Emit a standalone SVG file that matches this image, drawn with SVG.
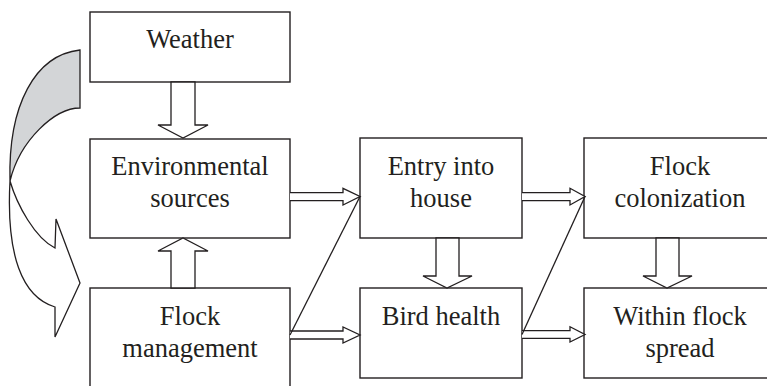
<svg xmlns="http://www.w3.org/2000/svg" width="767" height="386" viewBox="0 0 767 386">
  <style>
    .box { fill: #ffffff; stroke: #231f20; stroke-width: 1.4; }
    .lbl { font-family: 'Liberation Serif', 'Times New Roman', serif; font-size: 26.5px; fill: #231f20; text-anchor: middle; }
    .blk { fill: #ffffff; stroke: #231f20; stroke-width: 1.3; stroke-linejoin: miter; }
    .ln { fill: none; stroke: #231f20; stroke-width: 1.3; }
    .back { fill: #d3d5d7; stroke: #231f20; stroke-width: 1.3; }
  </style>
  <rect width="767" height="386" fill="#ffffff"/>

  <!-- twisted feedback arrow: weather acts on flock management -->
  <g id="feedback-arrow">
    <path class="back" d="M80,50 L80,108 C55,108 20,140 10,181 C8,105 35,55 80,50 Z"/>
    <path class="blk" d="M10,181 C6,255 22,297 55,307 L55,337 L80,283 L56,219 L55,248 C35,238 17,205 10,181 Z"/>
  </g>

  <!-- nodes -->
  <g id="weather">
    <rect class="box" x="90" y="12" width="200" height="70"/>
    <text class="lbl" x="190" y="48">Weather</text>
  </g>
  <g id="environmental-sources">
    <rect class="box" x="90" y="139" width="200" height="99"/>
    <text class="lbl" x="190" y="175">Environmental</text>
    <text class="lbl" x="190" y="207">sources</text>
  </g>
  <g id="flock-management">
    <rect class="box" x="90" y="288" width="200" height="120"/>
    <text class="lbl" x="190" y="325">Flock</text>
    <text class="lbl" x="190" y="357">management</text>
  </g>
  <g id="entry-into-house">
    <rect class="box" x="360" y="138" width="162" height="100"/>
    <text class="lbl" x="441" y="175">Entry into</text>
    <text class="lbl" x="441" y="207">house</text>
  </g>
  <g id="bird-health">
    <rect class="box" x="360" y="288" width="162" height="90"/>
    <text class="lbl" x="441" y="325">Bird health</text>
  </g>
  <g id="flock-colonization">
    <rect class="box" x="584" y="138" width="200" height="100"/>
    <text class="lbl" x="680" y="175">Flock</text>
    <text class="lbl" x="680" y="207">colonization</text>
  </g>
  <g id="within-flock-spread">
    <rect class="box" x="584" y="288" width="200" height="90"/>
    <text class="lbl" x="680" y="325">Within flock</text>
    <text class="lbl" x="680" y="357">spread</text>
  </g>

  <!-- connectors -->
  <g id="connectors">
    <!-- hollow block arrows -->
    <path class="blk" d="M171,82 L195,82 L195,125 L208,125 L183,138 L158,125 L171,125 Z"/>
    <path class="blk" d="M171,288 L195,288 L195,251 L208,251 L183,238 L158,251 L171,251 Z"/>
    <path class="blk" d="M436,238 L459,238 L459,276 L472,276 L447,288 L423,276 L436,276 Z"/>
    <path class="blk" d="M656,238 L679,238 L679,276 L692,276 L667,288 L643,276 L656,276 Z"/>

    <!-- double-line arrows -->
    <path class="blk" d="M290,192.7 L343,192.7 L343,188.3 L360,196.5 L343,205 L343,200.7 L290,200.7"/>
    <path class="blk" d="M522,192.7 L570,192.7 L570,188.3 L585,196.5 L570,205 L570,200.7 L522,200.7"/>
    <path class="blk" d="M290,331 L343,331 L343,327 L360,335 L343,343 L343,339 L290,339"/>
    <path class="blk" d="M522,330.7 L570,330.7 L570,326.7 L585,334.5 L570,342 L570,338.3 L522,338.3"/>

    <!-- diagonal links -->
    <line class="ln" x1="290" y1="335" x2="360" y2="196.5"/>
    <line class="ln" x1="522" y1="334.5" x2="585" y2="196.5"/>
  </g>
</svg>
